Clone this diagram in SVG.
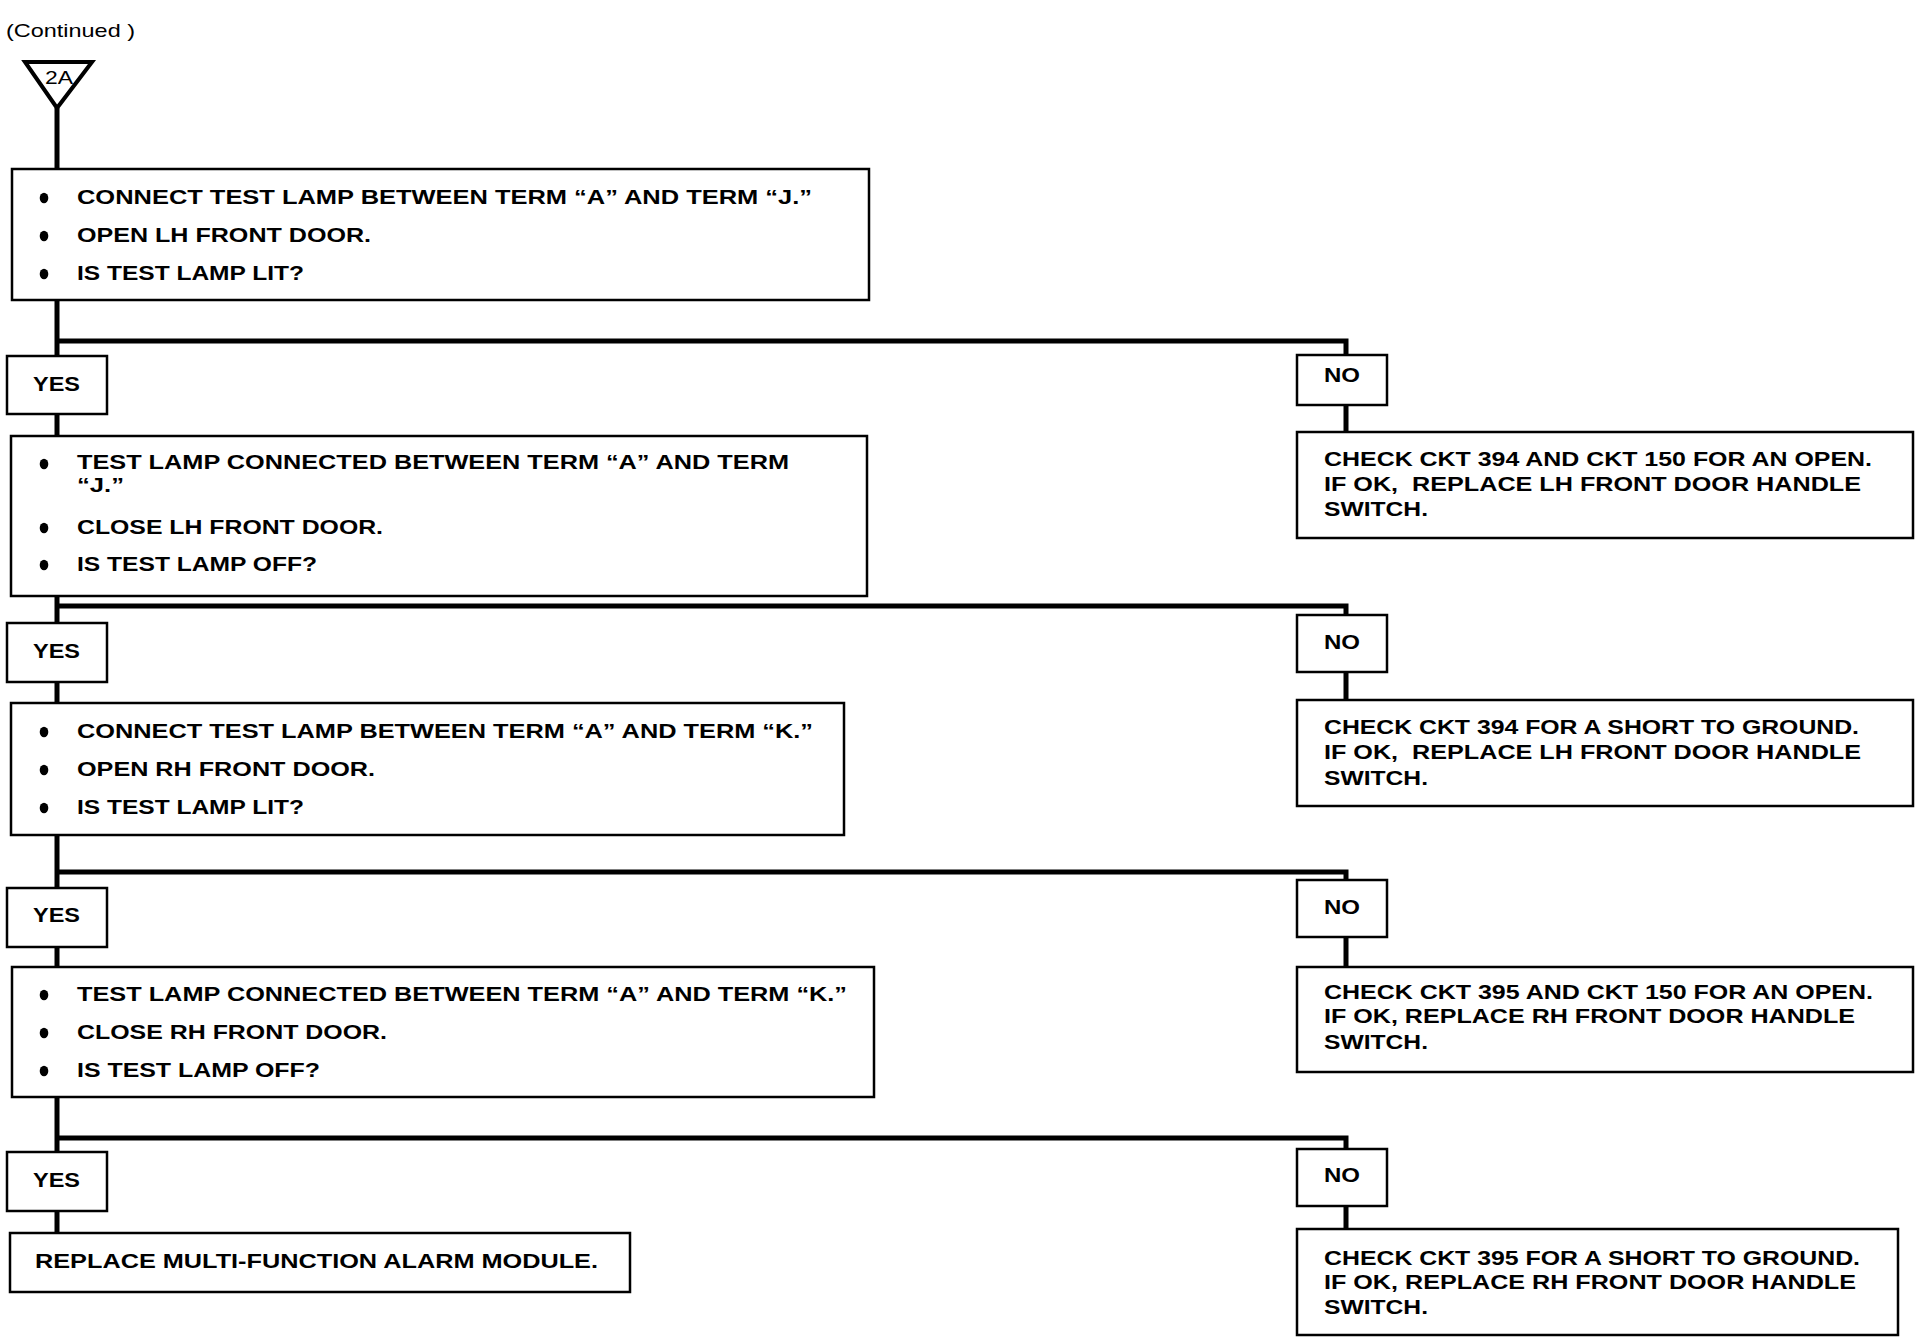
<svg xmlns="http://www.w3.org/2000/svg" width="1920" height="1344" viewBox="0 0 1920 1344">
<style>
.bg{fill:#fff}
.box{fill:#fff;stroke:#000;stroke-width:2.5}
.con{fill:none;stroke:#000;stroke-width:5}
.t{font-family:"Liberation Sans",Arial,sans-serif;font-weight:bold;font-size:20px;fill:#000}
.r{font-family:"Liberation Sans",Arial,sans-serif;font-weight:bold;font-size:20px;fill:#000;white-space:pre}
.n{font-family:"Liberation Sans",Arial,sans-serif;font-size:19px;fill:#000}
</style>
<defs>
<ellipse id="bul" cx="0" cy="0" rx="4.3" ry="5.3"/>
</defs>
<rect class="bg" x="0" y="0" width="1920" height="1344"/>

<text class="n" x="6" y="37" textLength="129" lengthAdjust="spacingAndGlyphs" style="white-space:pre">(Continued )</text>

<g id="connectors">
  <path class="con" d="M57 108 V170"/>
  <path class="con" d="M57 300 V356 M57 414 V436"/>
  <path class="con" d="M57 341 H1346 V355 M1346 405 V432"/>
  <path class="con" d="M57 596 V623 M57 682 V703"/>
  <path class="con" d="M57 606 H1346 V615 M1346 672 V700"/>
  <path class="con" d="M57 835 V888 M57 947 V967"/>
  <path class="con" d="M57 872 H1346 V880 M1346 937 V967"/>
  <path class="con" d="M57 1097 V1152 M57 1211 V1233"/>
  <path class="con" d="M57 1138 H1346 V1149 M1346 1206 V1229"/>
</g>

<g id="start">
  <polygon points="25,62 92,62 57,108" fill="#fff" stroke="#000" stroke-width="4" stroke-linejoin="miter"/>
  <text class="n" x="45" y="84" font-size="20" textLength="28" lengthAdjust="spacingAndGlyphs">2A</text>
</g>

<g id="step1">
  <rect class="box" x="12" y="169" width="857" height="131"/>
  <use href="#bul" x="44" y="198"/>
  <use href="#bul" x="44" y="236"/>
  <use href="#bul" x="44" y="274"/>
  <text class="t" x="77" y="204" textLength="735" lengthAdjust="spacingAndGlyphs">CONNECT TEST LAMP BETWEEN TERM “A” AND TERM “J.”</text>
  <text class="t" x="77" y="242" textLength="294" lengthAdjust="spacingAndGlyphs">OPEN LH FRONT DOOR.</text>
  <text class="t" x="77" y="280" textLength="227" lengthAdjust="spacingAndGlyphs">IS TEST LAMP LIT?</text>
</g>

<g id="yes1">
  <rect class="box" x="7" y="356" width="100" height="58"/>
  <text class="t" x="33" y="391" textLength="47" lengthAdjust="spacingAndGlyphs">YES</text>
</g>
<g id="no1">
  <rect class="box" x="1297" y="355" width="90" height="50"/>
  <text class="t" x="1324" y="382" textLength="36" lengthAdjust="spacingAndGlyphs">NO</text>
</g>
<g id="result1">
  <rect class="box" x="1297" y="432" width="616" height="106"/>
  <text class="r" x="1324" y="466" textLength="548" lengthAdjust="spacingAndGlyphs">CHECK CKT 394 AND CKT 150 FOR AN OPEN.</text>
  <text class="r" x="1324" y="491" textLength="537" lengthAdjust="spacingAndGlyphs">IF OK,  REPLACE LH FRONT DOOR HANDLE</text>
  <text class="r" x="1324" y="516" textLength="104" lengthAdjust="spacingAndGlyphs">SWITCH.</text>
</g>

<g id="step2">
  <rect class="box" x="11" y="436" width="856" height="160"/>
  <use href="#bul" x="44" y="464"/>
  <use href="#bul" x="44" y="528"/>
  <use href="#bul" x="44" y="565"/>
  <text class="t" x="77" y="469" textLength="712" lengthAdjust="spacingAndGlyphs">TEST LAMP CONNECTED BETWEEN TERM “A” AND TERM</text>
  <text class="t" x="77" y="492" textLength="47" lengthAdjust="spacingAndGlyphs">“J.”</text>
  <text class="t" x="77" y="534" textLength="306" lengthAdjust="spacingAndGlyphs">CLOSE LH FRONT DOOR.</text>
  <text class="t" x="77" y="571" textLength="240" lengthAdjust="spacingAndGlyphs">IS TEST LAMP OFF?</text>
</g>

<g id="yes2">
  <rect class="box" x="7" y="623" width="100" height="59"/>
  <text class="t" x="33" y="658" textLength="47" lengthAdjust="spacingAndGlyphs">YES</text>
</g>
<g id="no2">
  <rect class="box" x="1297" y="615" width="90" height="57"/>
  <text class="t" x="1324" y="649" textLength="36" lengthAdjust="spacingAndGlyphs">NO</text>
</g>
<g id="result2">
  <rect class="box" x="1297" y="700" width="616" height="106"/>
  <text class="r" x="1324" y="734" textLength="535" lengthAdjust="spacingAndGlyphs">CHECK CKT 394 FOR A SHORT TO GROUND.</text>
  <text class="r" x="1324" y="759" textLength="537" lengthAdjust="spacingAndGlyphs">IF OK,  REPLACE LH FRONT DOOR HANDLE</text>
  <text class="r" x="1324" y="785" textLength="104" lengthAdjust="spacingAndGlyphs">SWITCH.</text>
</g>

<g id="step3">
  <rect class="box" x="11" y="703" width="833" height="132"/>
  <use href="#bul" x="44" y="732"/>
  <use href="#bul" x="44" y="770"/>
  <use href="#bul" x="44" y="808"/>
  <text class="t" x="77" y="738" textLength="736" lengthAdjust="spacingAndGlyphs">CONNECT TEST LAMP BETWEEN TERM “A” AND TERM “K.”</text>
  <text class="t" x="77" y="776" textLength="298" lengthAdjust="spacingAndGlyphs">OPEN RH FRONT DOOR.</text>
  <text class="t" x="77" y="814" textLength="227" lengthAdjust="spacingAndGlyphs">IS TEST LAMP LIT?</text>
</g>

<g id="yes3">
  <rect class="box" x="7" y="888" width="100" height="59"/>
  <text class="t" x="33" y="922" textLength="47" lengthAdjust="spacingAndGlyphs">YES</text>
</g>
<g id="no3">
  <rect class="box" x="1297" y="880" width="90" height="57"/>
  <text class="t" x="1324" y="914" textLength="36" lengthAdjust="spacingAndGlyphs">NO</text>
</g>
<g id="result3">
  <rect class="box" x="1297" y="967" width="616" height="105"/>
  <text class="r" x="1324" y="999" textLength="549" lengthAdjust="spacingAndGlyphs">CHECK CKT 395 AND CKT 150 FOR AN OPEN.</text>
  <text class="r" x="1324" y="1023" textLength="531" lengthAdjust="spacingAndGlyphs">IF OK, REPLACE RH FRONT DOOR HANDLE</text>
  <text class="r" x="1324" y="1049" textLength="104" lengthAdjust="spacingAndGlyphs">SWITCH.</text>
</g>

<g id="step4">
  <rect class="box" x="12" y="967" width="862" height="130"/>
  <use href="#bul" x="44" y="995"/>
  <use href="#bul" x="44" y="1033"/>
  <use href="#bul" x="44" y="1071"/>
  <text class="t" x="77" y="1001" textLength="770" lengthAdjust="spacingAndGlyphs">TEST LAMP CONNECTED BETWEEN TERM “A” AND TERM “K.”</text>
  <text class="t" x="77" y="1039" textLength="310" lengthAdjust="spacingAndGlyphs">CLOSE RH FRONT DOOR.</text>
  <text class="t" x="77" y="1077" textLength="243" lengthAdjust="spacingAndGlyphs">IS TEST LAMP OFF?</text>
</g>

<g id="yes4">
  <rect class="box" x="7" y="1152" width="100" height="59"/>
  <text class="t" x="33" y="1187" textLength="47" lengthAdjust="spacingAndGlyphs">YES</text>
</g>
<g id="no4">
  <rect class="box" x="1297" y="1149" width="90" height="57"/>
  <text class="t" x="1324" y="1182" textLength="36" lengthAdjust="spacingAndGlyphs">NO</text>
</g>
<g id="result4">
  <rect class="box" x="1297" y="1229" width="601" height="106"/>
  <text class="r" x="1324" y="1265" textLength="536" lengthAdjust="spacingAndGlyphs">CHECK CKT 395 FOR A SHORT TO GROUND.</text>
  <text class="r" x="1324" y="1289" textLength="532" lengthAdjust="spacingAndGlyphs">IF OK, REPLACE RH FRONT DOOR HANDLE</text>
  <text class="r" x="1324" y="1314" textLength="104" lengthAdjust="spacingAndGlyphs">SWITCH.</text>
</g>

<g id="final">
  <rect class="box" x="10" y="1233" width="620" height="59"/>
  <text class="t" x="35" y="1268" textLength="563" lengthAdjust="spacingAndGlyphs">REPLACE MULTI-FUNCTION ALARM MODULE.</text>
</g>
</svg>
